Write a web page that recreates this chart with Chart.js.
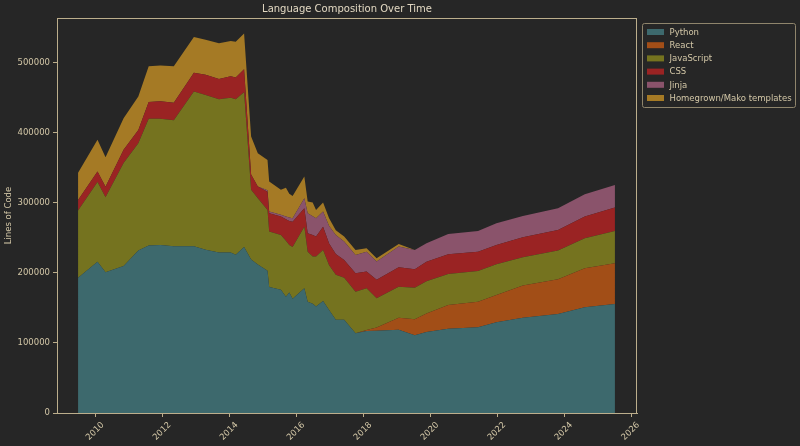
<!DOCTYPE html>
<html>
<head>
<meta charset="utf-8">
<script src="https://cdn.jsdelivr.net/npm/chart.js@4.4.0/dist/chart.umd.min.js"></script>
<style>
  html, body { margin: 0; padding: 0; background: #262626; }
  #wrap { width: 800px; height: 446px; }
</style>
</head>
<body>
<div id="wrap"><canvas id="myChart" width="800" height="446"></canvas></div>
<script>
// sample dates (decimal years) and lines of code per language
const years = [
  2009.47, 2010.05, 2010.29, 2010.83, 2011.27, 2011.58, 2011.93, 2012.33, 2012.93, 2013.28, 2013.68, 2014.03, 2014.18, 2014.43,
  2014.64, 2014.84, 2015.13, 2015.18, 2015.53, 2015.68, 2015.78, 2015.88, 2016.23, 2016.33, 2016.48, 2016.58, 2016.79, 2016.97,
  2017.17, 2017.42, 2017.76, 2018.09, 2018.39,
  2019.05, 2019.53, 2019.88, 2020.53, 2021.42, 2021.97, 2022.76, 2023.81, 2024.61, 2025.51
];
const python = [
  193000, 216000, 201000, 210000, 232000, 239000, 240000, 238000, 238000, 233000, 229000, 229000, 226000, 237000,
  219000, 212000, 203000, 180000, 176000, 166000, 172000, 163000, 178000, 159000, 156000, 152000, 160000, 147000,
  133000, 133000, 114000, 117000, 117500,
  119000, 111000, 115700, 120400, 122400, 129500, 136000, 141400, 150900, 155700
];
const react = [
  0, 0, 0, 0, 0, 0, 0, 0, 0, 0, 0, 0, 0, 0,
  0, 0, 0, 0, 0, 0, 0, 0, 0, 0, 0, 0, 0, 0,
  0, 0, 0, 1600, 4500,
  17000, 22800, 26300, 33900, 36600, 39100, 45900, 49600, 55800, 58200
];
const javascript = [
  96000, 114000, 107000, 147000, 153000, 181000, 180000, 180000, 221000, 221000, 219000, 221000, 222000, 221000,
  99600, 94700, 87000, 79000, 78300, 80000, 68000, 74000, 88100, 71400, 67300, 71300, 72900, 64000,
  64500, 60000, 59300, 59500, 42000,
  44400, 45200, 46000, 44300, 43900, 43800, 40500, 40900, 42900, 46100
];
const css = [
  15000, 15000, 15000, 19000, 19000, 24000, 25000, 25000, 27000, 29000, 29000, 31000, 31000, 33000,
  22000, 16600, 26000, 26200, 26100, 30500, 34000, 36000, 26300, 26300, 31000, 28600, 33200, 31000,
  29500, 25600, 26300, 23800, 26100,
  27700, 26300, 28000, 28100, 27500, 27600, 28600, 29500, 30800, 33300
];
const jinja = [
  0, 0, 0, 0, 0, 0, 0, 0, 0, 0, 0, 0, 0, 0,
  0, 0, 2000, 2400, 2600, 4000, 5000, 5000, 14300, 28500, 26700, 26200, 21500, 25000,
  27000, 26100, 26100, 28500, 26100,
  29500, 27600, 26400, 29000, 29600, 31000, 30400, 31000, 32000, 32400
];
const homegrown = [
  39000, 45000, 42000, 45000, 48000, 51000, 51000, 52000, 51000, 50000, 51000, 50000, 51000, 51000,
  54100, 47700, 43400, 42800, 35600, 41000, 34000, 32000, 30900, 16700, 19400, 11900, 12800, 11000,
  7000, 7200, 7200, 4900, 4900,
  3800, 0, 0, 0, 0, 0, 0, 0, 0, 0
];
const yTicks = [0, 100000, 200000, 300000, 400000, 500000];
const xTicks = [2010, 2012, 2014, 2016, 2018, 2020, 2022, 2024, 2026];

const fg = '#d3c7a7';
const frame = '#bcae8c';
const font = 'DejaVu Sans';

function series(label, values, color, first) {
  return {
    label: label,
    data: years.map((t, i) => ({ x: t, y: values[i] })),
    backgroundColor: color,
    borderColor: color,
    borderWidth: 0,
    pointRadius: 0,
    tension: 0,
    fill: first ? 'origin' : '-1'
  };
}

const bgPlugin = {
  id: 'bg',
  beforeDraw(chart) {
    const ctx = chart.ctx;
    ctx.save();
    ctx.fillStyle = '#262626';
    ctx.fillRect(0, 0, chart.width, chart.height);
    ctx.restore();
  },
  afterDraw(chart) {
    const ctx = chart.ctx;
    const a = chart.chartArea;
    ctx.save();
    ctx.strokeStyle = frame;
    ctx.lineWidth = 1;
    ctx.strokeRect(a.left + 0.5, a.top + 0.5, a.right - a.left - 1, a.bottom - a.top);
    // legend box
    const x0 = a.right + 5.5, y0 = a.top + 5.5, w = 153, h = 84;
    ctx.strokeStyle = '#8f856c';
    ctx.beginPath();
    ctx.roundRect(x0, y0, w, h, 2);
    ctx.stroke();
    ctx.font = '8.5px "' + font + '"';
    ctx.textBaseline = 'middle';
    ctx.textAlign = 'left';
    chart.data.datasets.forEach((ds, i) => {
      const cy = y0 + 8.5 + i * 13.2;
      ctx.fillStyle = ds.backgroundColor;
      ctx.fillRect(x0 + 4.5, cy - 3, 17, 6);
      ctx.fillStyle = fg;
      ctx.fillText(ds.label, x0 + 27, cy + 0.5);
    });
    ctx.restore();
  }
};

const ctx = document.getElementById('myChart').getContext('2d');
const myChart = new Chart(ctx, {
  type: 'line',
  data: {
    datasets: [
      series('Python', python, '#3d696d', true),
      series('React', react, '#a24e17', false),
      series('JavaScript', javascript, '#75731f', false),
      series('CSS', css, '#9a2323', false),
      series('Jinja', jinja, '#8a536b', false),
      series('Homegrown/Mako templates', homegrown, '#a57a25', false)
    ]
  },
  options: {
    responsive: false,
    animation: false,
    layout: { padding: { left: 0, right: 163, top: 0, bottom: 0 } },
    plugins: {
      legend: { display: false },
      tooltip: { enabled: false },
      title: {
        display: true,
        fullSize: false,
        text: 'Language Composition Over Time',
        color: '#e2d8c2',
        font: { family: font, size: 10, weight: 'normal' },
        padding: { top: 3, bottom: 3 }
      }
    },
    scales: {
      x: {
        type: 'linear',
        min: 2008.84,
        max: 2026.17,
        afterFit(scale) { scale.height = 33; },
        afterBuildTicks(scale) { scale.ticks = xTicks.map(v => ({ value: v })); },
        ticks: {
          color: fg,
          font: { family: font, size: 8.5 },
          maxRotation: 45,
          minRotation: 45,
          labelOffset: 7,
          padding: 3,
          callback: v => String(v)
        },
        grid: { display: true, drawOnChartArea: false, tickLength: 4, tickColor: frame },
        border: { color: frame }
      },
      y: {
        stacked: true,
        min: 0,
        max: 564000,
        afterFit(scale) { scale.width = 57; },
        afterBuildTicks(scale) { scale.ticks = yTicks.map(v => ({ value: v })); },
        ticks: {
          color: fg,
          font: { family: font, size: 8.5 },
          padding: 3,
          callback: v => String(v)
        },
        title: {
          display: true,
          text: 'Lines of Code',
          color: fg,
          font: { family: font, size: 8.5 },
          padding: { top: 4, bottom: 2 }
        },
        grid: { display: true, drawOnChartArea: false, tickLength: 4, tickColor: frame },
        border: { color: frame }
      }
    }
  },
  plugins: [bgPlugin]
});
</script>
</body>
</html>
